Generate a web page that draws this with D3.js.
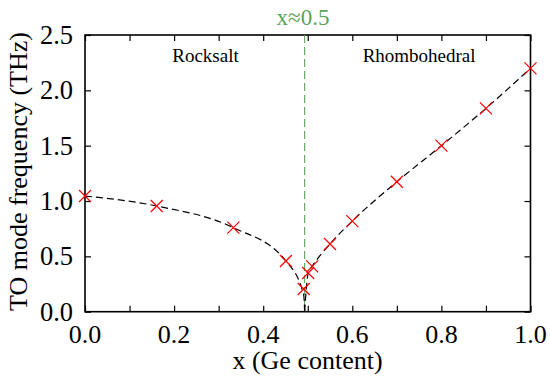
<!DOCTYPE html>
<html>
<head>
<meta charset="utf-8">
<script src="https://cdn.jsdelivr.net/npm/d3@7"></script>
<style>
  body { margin: 0; background: #fff; }
</style>
</head>
<body>
<svg id="viz_area" width="550" height="377" font-family="Liberation Serif, serif"></svg>
<script>
const margin = { top: 35, right: 19.5, bottom: 65.3, left: 85 }
const serif = 'Liberation Serif'

// measured points (x = Ge content, y = TO frequency in THz)
const geContent = [0.0, 0.161, 0.333, 0.451, 0.491, 0.501, 0.510, 0.55, 0.6, 0.7, 0.8, 0.9, 1.0]
const toFreq = [1.045, 0.955, 0.759, 0.458, 0.205, 0.35, 0.41, 0.612, 0.819, 1.174, 1.50, 1.837, 2.199]

// fitted curve, split at the soft-mode minimum
const fitLeftX = [0.0, 0.161, 0.333, 0.451, 0.491, 0.493]
const fitLeftY = [1.045, 0.955, 0.759, 0.458, 0.15, 0.0]
const fitRightX = [0.493, 0.501, 0.510, 0.55, 0.6, 0.7, 0.8, 0.9, 1.0]
const fitRightY = [0.0, 0.35, 0.41, 0.612, 0.819, 1.174, 1.50, 1.837, 2.199]

const transitionX = 0.493
const xTicks = [0, 0.1, 0.2, 0.3, 0.4, 0.5, 0.6, 0.7, 0.8, 0.9, 1.0]
const xTickLabels = [0, 0.2, 0.4, 0.6, 0.8, 1.0]
const yTicks = [0, 0.5, 1.0, 1.5, 2.0, 2.5]

const svgSize = { width: 550, height: 377 }
const graphSize = {
    width: svgSize.width - margin.left - margin.right,
    height: svgSize.height - margin.top - margin.bottom
}

const svg = d3.select('#viz_area')
const g = svg.append('g')
    .attr('transform', 'translate(' + margin.left + ',' + margin.top + ')')

const xScale = d3.scaleLinear().domain([0, 1]).range([0, graphSize.width])
const yScale = d3.scaleLinear().domain([0, 2.5]).range([graphSize.height, 0])

// axes: ticks pointing inward, labels drawn separately
const tickLen = 6
g.append('g')
    .attr('transform', 'translate(0,' + graphSize.height + ')')
    .call(d3.axisTop(xScale).tickValues(xTicks).tickSize(tickLen).tickFormat(''))
g.append('g')
    .call(d3.axisBottom(xScale).tickValues(xTicks).tickSize(tickLen).tickFormat(''))
g.append('g')
    .call(d3.axisRight(yScale).tickValues(yTicks).tickSize(tickLen).tickFormat(''))
g.append('g')
    .attr('transform', 'translate(' + graphSize.width + ',0)')
    .call(d3.axisLeft(yScale).tickValues(yTicks).tickSize(tickLen).tickFormat(''))

g.selectAll('.domain').remove()
g.selectAll('.tick line').attr('stroke', '#000').attr('stroke-width', 1.2)

g.append('rect')
    .attr('width', graphSize.width)
    .attr('height', graphSize.height)
    .attr('fill', 'none')
    .attr('stroke', '#000')
    .attr('stroke-width', 1.6)

g.selectAll('.xlab')
    .data(xTickLabels)
    .enter()
    .append('text')
    .attr('x', function (d) { return xScale(d) })
    .attr('y', graphSize.height + 31)
    .attr('text-anchor', 'middle')
    .attr('font-family', serif)
    .attr('font-size', 26)
    .text(function (d) { return d3.format('.1f')(d) })

g.selectAll('.ylab')
    .data(yTicks)
    .enter()
    .append('text')
    .attr('x', -12)
    .attr('y', function (d) { return yScale(d) + 9 })
    .attr('text-anchor', 'end')
    .attr('font-family', serif)
    .attr('font-size', 26.5)
    .text(function (d) { return d3.format('.1f')(d) })

svg.append('text')
    .attr('x', 307.5)
    .attr('y', 369)
    .attr('text-anchor', 'middle')
    .attr('font-family', serif)
    .attr('font-size', 26)
    .text('x (Ge content)')

svg.append('text')
    .attr('transform', 'translate(27,' + 171.5 + ') rotate(-90)')
    .attr('text-anchor', 'middle')
    .attr('font-family', serif)
    .attr('font-size', 26)
    .text('TO mode frequency (THz)')

// transition marker
g.append('line')
    .attr('x1', xScale(transitionX))
    .attr('x2', xScale(transitionX))
    .attr('y1', 0)
    .attr('y2', graphSize.height)
    .attr('stroke', '#5aa55a')
    .attr('stroke-width', 1.1)
    .attr('stroke-dasharray', '8,4')

svg.append('text')
    .attr('x', 303)
    .attr('y', 25)
    .attr('text-anchor', 'middle')
    .attr('font-family', serif)
    .attr('font-size', 23)
    .attr('fill', '#5aa55a')
    .text('x≈0.5')

g.append('text')
    .attr('x', xScale(0.2705))
    .attr('y', 26.5)
    .attr('text-anchor', 'middle')
    .attr('font-family', serif)
    .attr('font-size', 19)
    .text('Rocksalt')

g.append('text')
    .attr('x', xScale(0.75))
    .attr('y', 26.5)
    .attr('text-anchor', 'middle')
    .attr('font-family', serif)
    .attr('font-size', 19)
    .text('Rhombohedral')

// dashed fit line
const line = d3.line()
    .x(function (d) { return xScale(d[0]) })
    .y(function (d) { return yScale(d[1]) })
    .curve(d3.curveMonotoneX)

const branches = [d3.zip(fitLeftX, fitLeftY), d3.zip(fitRightX, fitRightY)]
g.selectAll('.fit')
    .data(branches)
    .enter()
    .append('path')
    .attr('d', line)
    .attr('fill', 'none')
    .attr('stroke', '#000')
    .attr('stroke-width', 1.2)
    .attr('stroke-dasharray', '7,4')

// red x markers
const s = 6
const points = d3.zip(geContent, toFreq)
g.selectAll('.pt')
    .data(points)
    .enter()
    .append('path')
    .attr('transform', function (d) { return 'translate(' + xScale(d[0]) + ',' + yScale(d[1]) + ')' })
    .attr('d', 'M' + -s + ',' + -s + 'L' + s + ',' + s + 'M' + -s + ',' + s + 'L' + s + ',' + -s)
    .attr('stroke', '#ff0000')
    .attr('stroke-width', 1.2)
    .attr('fill', 'none')
</script>
</body>
</html>
